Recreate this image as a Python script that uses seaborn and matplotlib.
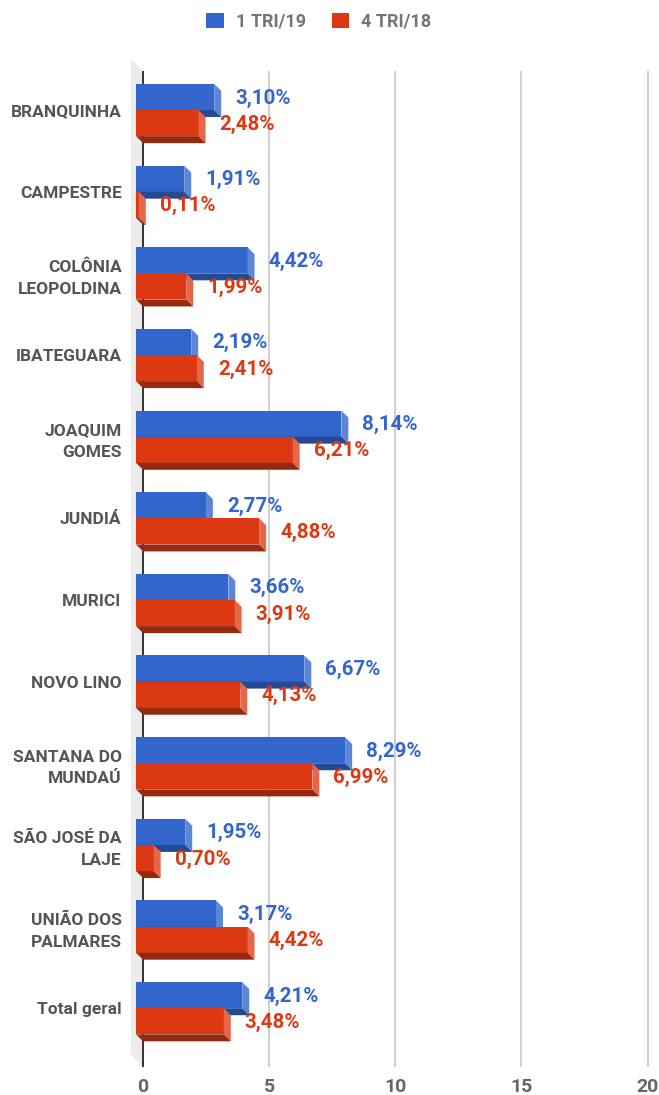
import matplotlib
matplotlib.use("Agg")
import matplotlib.pyplot as plt
from matplotlib.patches import Polygon, Patch
import pandas as pd
import seaborn as sns

# data
categories = ["BRANQUINHA", "CAMPESTRE", "COLÔNIA\nLEOPOLDINA", "IBATEGUARA",
              "JOAQUIM\nGOMES", "JUNDIÁ", "MURICI", "NOVO LINO",
              "SANTANA DO\nMUNDAÚ", "SÃO JOSÉ DA\nLAJE", "UNIÃO DOS\nPALMARES",
              "Total geral"]
tri1_19 = [3.10, 1.91, 4.42, 2.19, 8.14, 2.77, 3.66, 6.67, 8.29, 1.95, 3.17, 4.21]
tri4_18 = [2.48, 0.11, 1.99, 2.41, 6.21, 4.88, 3.91, 4.13, 6.99, 0.70, 4.42, 3.48]
series = ["1 TRI/19", "4 TRI/18"]
x_ticks = [0, 5, 10, 15, 20]

front_colors = ["#3366cc", "#dc3912"]
side_colors = ["#5c87d9", "#e5674a"]
bottom_colors = ["#244a94", "#962a10"]

df = pd.DataFrame({
    "local": categories * 2,
    "valor": tri1_19 + tri4_18,
    "serie": [series[0]] * len(categories) + [series[1]] * len(categories),
})

plt.rcParams["font.family"] = ["Roboto", "DejaVu Sans"]

fig = plt.figure(figsize=(6.59, 10.95), dpi=100)
ax = fig.add_axes([0.1971, 0.02557, 0.7932, 0.9096])

sns.barplot(data=df, y="local", x="valor", hue="serie", hue_order=series,
            orient="h", palette=front_colors, width=0.64, saturation=1,
            legend=False, ax=ax, zorder=3)

xlim = (-0.52, 20.2)
ylim = (11.72, -0.478)
ax.set_xlim(*xlim)
ax.set_ylim(*ylim)

# pixel -> data conversion for the fake 3D depth
W, H = fig.get_size_inches() * fig.dpi
ppx = W * 0.7932 / (xlim[1] - xlim[0])
ppy = H * 0.9096 / (ylim[0] - ylim[1])
dx = 7 / ppx
dy = 7 / ppy

# grey side wall on the left
wx = 12 / ppx
wy = 12 / ppy
wall = Polygon([(-wx, ylim[1] - wy), (0, ylim[1]), (0, ylim[0]), (-wx, ylim[0] - wy)],
               closed=True, facecolor="#ebebeb", edgecolor="none", zorder=1, clip_on=False)
ax.add_patch(wall)
ax.axvline(0, color="#333333", lw=1.4, zorder=1.5)

for i, cont in enumerate(ax.containers):
    z = 3 + i
    for p in cont.patches:
        v = p.get_width()
        top = p.get_y()
        bot = top + p.get_height()
        p.set_x(-dx)
        p.set_zorder(z)
        side = Polygon([(v - dx, top), (v, top + dy), (v, bot + dy), (v - dx, bot)],
                       closed=True, facecolor=side_colors[i], edgecolor="none", zorder=z + 0.1)
        bottom = Polygon([(-dx, bot), (v - dx, bot), (v, bot + dy), (0, bot + dy)],
                         closed=True, facecolor=bottom_colors[i], edgecolor="none", zorder=z + 0.1)
        ax.add_patch(side)
        ax.add_patch(bottom)
        txt = f"{v:.2f}".replace(".", ",") + "%"
        ax.annotate(txt, xy=(v, (top + bot) / 2), xytext=(14, -1), textcoords="offset pixels",
                    ha="left", va="center", color=front_colors[i], fontsize=14.8,
                    fontweight="bold", zorder=6)

ax.set_xticks(x_ticks)
ax.grid(axis="x", color="#cccccc", lw=1.3)
ax.set_axisbelow(True)
for s in ax.spines.values():
    s.set_visible(False)
ax.set_xlabel("")
ax.set_ylabel("")

ax.tick_params(axis="y", length=0, pad=6, labelsize=12.5, labelcolor="#555555")
for lbl in ax.get_yticklabels():
    lbl.set_fontweight("bold")
    lbl.set_linespacing(1.55)
ax.tick_params(axis="x", length=0, pad=8, labelsize=14, labelcolor="#666666")
for lbl in ax.get_xticklabels():
    lbl.set_fontweight("bold")

handles = [Patch(facecolor=c, edgecolor="none") for c in front_colors]
fig.legend(handles, series, loc="center", bbox_to_anchor=(0.484, 0.98), ncol=2,
           frameon=False, prop={"size": 13, "weight": "bold"}, labelcolor="#757575",
           handlelength=0.95, handleheight=0.95, handletextpad=0.7, columnspacing=1.4)

fig.savefig("out.png", dpi=100)
